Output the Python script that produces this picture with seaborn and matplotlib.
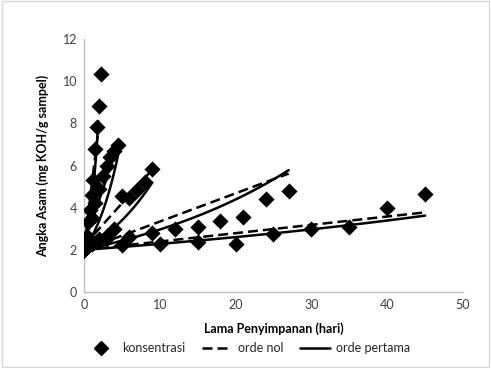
import numpy as np
import pandas as pd
import matplotlib
matplotlib.use("Agg")
import matplotlib.pyplot as plt
import seaborn as sns
from matplotlib.lines import Line2D
from matplotlib.patches import Rectangle

# ---- data ----
series_names = ["A", "B", "C", "D", "E"]
days_A = [0, 5, 10, 15, 20, 25, 30, 35, 40, 45]
acid_A = [2.0, 2.23, 2.26, 2.39, 2.3, 2.75, 2.98, 3.06, 3.97, 4.63]
days_B = [0, 3, 6, 9, 12, 15, 18, 21, 24, 27]
acid_B = [2.0, 2.55, 2.6, 2.8, 3.0, 3.1, 3.38, 3.54, 4.39, 4.77]
days_C = [0, 1, 2, 3, 4, 5, 6, 7, 8, 9]
acid_C = [2.0, 2.3, 2.5, 2.65, 2.97, 4.56, 4.44, 4.85, 5.23, 5.85]
days_D = [0, 0.5, 1, 1.5, 2, 2.5, 3, 3.5, 4, 4.5]
acid_D = [2.0, 2.6, 3.5, 4.2, 4.9, 5.5, 6.0, 6.4, 6.7, 6.95]
days_E = [0, 0.25, 0.5, 0.75, 1.0, 1.25, 1.5, 1.75, 2.0, 2.2]
acid_E = [2.0, 2.6, 3.3, 3.9, 4.6, 5.3, 6.8, 7.83, 8.83, 10.33]

# fitted models
line_end = [45, 27, 9, 4.6, 1.9]            # last day of each fitted line
zero_a = [2.0, 2.0, 2.2, 2.3, 2.0]          # zero order intercept
zero_k = [0.0395, 0.134, 0.40, 1.03, 3.0]   # zero order slope
first_a = [2.0, 2.0, 2.0, 2.0, 2.0]         # first order initial value
first_k = [0.0132, 0.0393, 0.106, 0.262, 0.736]

x_ticks = [0, 10, 20, 30, 40, 50]
y_ticks = [0, 2, 4, 6, 8, 10, 12]
x_label = "Lama Penyimpanan (hari)"
y_label = "Angka Asam (mg KOH/g sampel)"
legend_labels = ["konsentrasi", "orde nol", "orde pertama"]

days = [days_A, days_B, days_C, days_D, days_E]
acid = [acid_A, acid_B, acid_C, acid_D, acid_E]

pts = pd.concat([pd.DataFrame({"series": n, "day": d, "acid": a})
                 for n, d, a in zip(series_names, days, acid)], ignore_index=True)

rows = []
for n, end, za, zk, fa, fk in zip(series_names, line_end, zero_a, zero_k, first_a, first_k):
    t = np.linspace(0, end, 60)
    rows.append(pd.DataFrame({"series": n, "day": t, "acid": za + zk * t, "model": "nol"}))
    rows.append(pd.DataFrame({"series": n, "day": t, "acid": fa * np.exp(fk * t), "model": "pertama"}))
lines = pd.concat(rows, ignore_index=True)

sns.set_theme(style="white")
plt.rcParams["font.family"] = ["Lato", "DejaVu Sans"]

fig = plt.figure(figsize=(4.91, 3.68), dpi=100)
ax = fig.add_axes([0.171, 0.2065, 0.772, 0.6875])

for n in series_names:
    sub = lines[(lines.series == n) & (lines.model == "nol")]
    sns.lineplot(data=sub, x="day", y="acid", ax=ax, color="black", lw=1.8,
                 linestyle=(0, (4, 2)), estimator=None, sort=False)
    sub = lines[(lines.series == n) & (lines.model == "pertama")]
    sns.lineplot(data=sub, x="day", y="acid", ax=ax, color="black", lw=1.8,
                 estimator=None, sort=False)

sns.scatterplot(data=pts, x="day", y="acid", ax=ax, marker="D", s=68,
                color="black", edgecolor="black", linewidth=0, zorder=5)

ax.set_xlim(0, 50)
ax.set_ylim(0, 12)
ax.set_xticks(x_ticks)
ax.set_yticks(y_ticks)
ax.tick_params(axis="both", length=0, labelsize=9, colors="#404040", pad=5)
for s in ["top", "right"]:
    ax.spines[s].set_visible(False)
for s in ["left", "bottom"]:
    ax.spines[s].set_color("#BFBFBF")
    ax.spines[s].set_linewidth(1.0)
ax.set_xlabel(x_label, fontsize=9, fontweight="bold", color="#000000", labelpad=8)
ax.set_ylabel(y_label, fontsize=9, fontweight="bold", color="#000000", labelpad=10)

handles = [Line2D([], [], marker="D", color="black", linestyle="none", markersize=7),
           Line2D([], [], color="black", lw=1.8, linestyle=(0, (4, 2))),
           Line2D([], [], color="black", lw=1.8)]
fig.legend(handles, legend_labels, loc="center", bbox_to_anchor=(0.505, 0.053),
           ncol=3, frameon=False, fontsize=9, handlelength=2.4, columnspacing=1.3,
           handletextpad=0.5)

fig.patches.append(Rectangle((0.004, 0.004), 0.992, 0.992, transform=fig.transFigure,
                             fill=False, edgecolor="#D9D9D9", lw=1))

fig.savefig("out.png", dpi=100)
